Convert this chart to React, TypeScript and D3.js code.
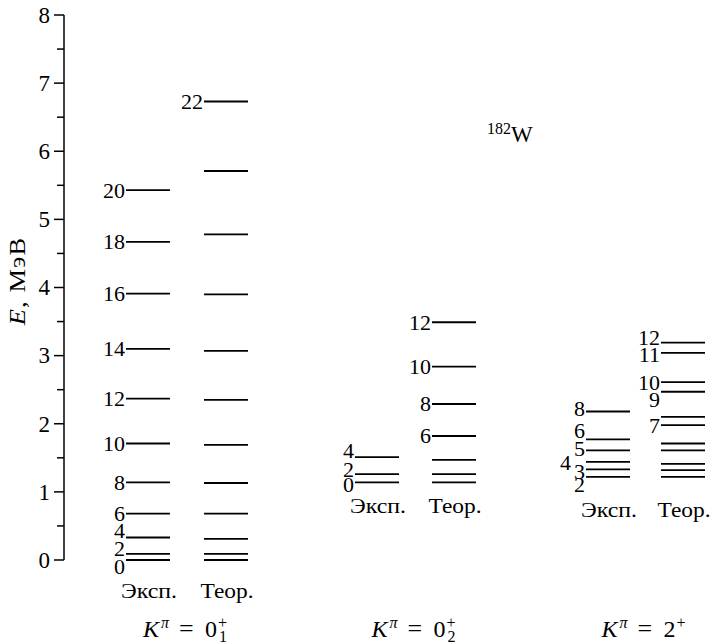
import React from "react";
import * as d3 from "d3";

// ---- data (energies in MeV) ----
const yTicks = [0, 1, 2, 3, 4, 5, 6, 7, 8];
const yMinorTicks = [0.5, 1.5, 2.5, 3.5, 4.5, 5.5, 6.5, 7.5];

const band1ExpE = [0, 0.09, 0.33, 0.68, 1.14, 1.71, 2.37, 3.1, 3.91, 4.67, 5.43];
const band1ExpLabels = ["0", "2", "4", "6", "8", "10", "12", "14", "16", "18", "20"];
const band1TheoE = [0, 0.09, 0.31, 0.68, 1.13, 1.69, 2.35, 3.07, 3.9, 4.78, 5.71, 6.73];
const band1TheoLabels = ["", "", "", "", "", "", "", "", "", "", "", "22"];

const band2ExpE = [1.14, 1.26, 1.51];
const band2ExpLabels = ["0", "2", "4"];
const band2TheoE = [1.14, 1.26, 1.47, 1.82, 2.29, 2.84, 3.49];
const band2TheoLabels = ["", "", "", "6", "8", "10", "12"];

const band3ExpE = [1.22, 1.33, 1.44, 1.61, 1.77, 2.18];
const band3ExpLabels = ["2", "3", "4", "5", "6", "8"];
const band3TheoE = [1.22, 1.32, 1.41, 1.61, 1.71, 1.98, 2.1, 2.47, 2.61, 3.04, 3.19];
const band3TheoLabels = ["", "", "", "", "", "7", "", "9", "10", "11", "12"];

const bandTitles = [
  { sub: "1", sup: "+", base: "0" },
  { sub: "2", sup: "+", base: "0" },
  { sub: "", sup: "+", base: "2" },
];
const colExp = "Эксп.";
const colTheo = "Теор.";
const nucleusMass = "182";
const nucleusSymbol = "W";
const yLabelVar = "E";
const yLabelUnit = ", МэВ";

// ---- layout (styling, not data) ----
const W = 713;
const H = 644;
const FONT = '"Liberation Serif", Tinos, "Times New Roman", serif';

// label nudges (px) for crowded levels: key `${band}-${col}-${label}`
const nudge: Record<string, [number, number]> = {
  "0-0-0": [0, 7],
  "0-0-2": [0, -5],
  "0-0-4": [0, -7],
  "1-0-4": [0, -7],
  "1-0-2": [0, -5],
  "1-0-0": [0, 2],
  "2-0-8": [0, -3],
  "2-0-6": [0, -9],
  "2-0-5": [0, -2],
  "2-0-4": [-14, 1],
  "2-0-3": [0, 2],
  "2-0-2": [0, 8],
  "2-1-12": [0, -5],
  "2-1-11": [0, 2],
  "2-1-9": [0, 8],
};

export default function App() {
  const y = d3.scaleLinear().domain([0, 8]).range([560, 15]);
  const axisX = 64;

  const bands = [
    { exp: band1ExpE, expL: band1ExpLabels, theo: band1TheoE, theoL: band1TheoLabels, cols: [126, 204], labelOff: 38 },
    { exp: band2ExpE, expL: band2ExpLabels, theo: band2TheoE, theoL: band2TheoLabels, cols: [355, 432], labelOff: 31 },
    { exp: band3ExpE, expL: band3ExpLabels, theo: band3TheoE, theoL: band3TheoLabels, cols: [586, 661], labelOff: 40 },
  ];
  const lineW = 44;
  const ts = { fontFamily: FONT };

  return (
    <svg width={W} height={H} style={{ position: "absolute", left: 0, top: 0, background: "#fff", fontFamily: FONT }}>
      <rect x={0} y={0} width={W} height={H} fill="#fff" />
      {/* axis */}
      <line x1={axisX} x2={axisX} y1={y(8)} y2={y(0)} stroke="#000" strokeWidth={1.5} />
      {yTicks.map((t) => (
        <g key={"t" + t}>
          <line x1={axisX - 10} x2={axisX} y1={y(t)} y2={y(t)} stroke="#000" strokeWidth={1.5} />
          <text x={50} y={y(t)} dy="0.34em" textAnchor="end" fontSize={23} style={ts}>
            {t}
          </text>
        </g>
      ))}
      {yMinorTicks.map((t) => (
        <line key={"m" + t} x1={axisX - 7} x2={axisX} y1={y(t)} y2={y(t)} stroke="#000" strokeWidth={1.5} />
      ))}
      <text
        transform={`translate(25,${281}) rotate(-90) scale(1.15,1)`}
        textAnchor="middle"
        fontSize={23}
        letterSpacing={1}
        style={ts}
      >
        <tspan fontStyle="italic">{yLabelVar}</tspan>
        {yLabelUnit}
      </text>

      {bands.map((b, bi) => {
        const cols = [
          { e: b.exp, l: b.expL, x0: b.cols[0], name: colExp, len: 56 },
          { e: b.theo, l: b.theoL, x0: b.cols[1], name: colTheo, len: 53 },
        ];
        const minE = Math.min(...b.exp, ...b.theo);
        const center = (b.cols[0] + b.cols[1] + lineW) / 2;
        const title = bandTitles[bi];
        const kx = center - 44;
        return (
          <g key={"b" + bi}>
            {cols.map((c, ci) => (
              <g key={"c" + ci}>
                {c.e.map((e, i) => {
                  const lab = c.l[i];
                  const nd = nudge[`${bi}-${ci}-${lab}`] || [0, 0];
                  return (
                    <g key={i}>
                      <line x1={c.x0} x2={c.x0 + lineW} y1={y(e)} y2={y(e)} stroke="#000" strokeWidth={1.8} />
                      {lab && (
                        <text x={c.x0 - 1 + nd[0]} y={y(e) + nd[1]} dy="0.34em" textAnchor="end" fontSize={22} style={ts}>
                          {lab}
                        </text>
                      )}
                    </g>
                  );
                })}
                <text
                  x={c.x0 + lineW / 2 - c.len / 2 + 1}
                  y={y(minE) + b.labelOff}
                  fontSize={21}
                  textLength={c.len}
                  lengthAdjust="spacingAndGlyphs"
                  style={ts}
                >
                  {c.name}
                </text>
              </g>
            ))}
            <g style={ts}>
              <text x={kx} y={637} fontSize={24} fontStyle="italic">K</text>
              <text x={kx + 18} y={628} fontSize={16} fontStyle="italic">π</text>
              <text x={kx + 36} y={637} fontSize={26}>=</text>
              <text x={kx + 62} y={637} fontSize={24}>{title.base}</text>
              <text x={kx + 75} y={628} fontSize={16}>{title.sup}</text>
              {title.sub && (
                <text x={kx + 76} y={642} fontSize={16}>{title.sub}</text>
              )}
            </g>
          </g>
        );
      })}

      <text x={487} y={142} fontSize={23} style={ts}>
        <tspan fontSize={16} dy={-8}>{nucleusMass}</tspan>
        <tspan dy={8}>{nucleusSymbol}</tspan>
      </text>
    </svg>
  );
}
